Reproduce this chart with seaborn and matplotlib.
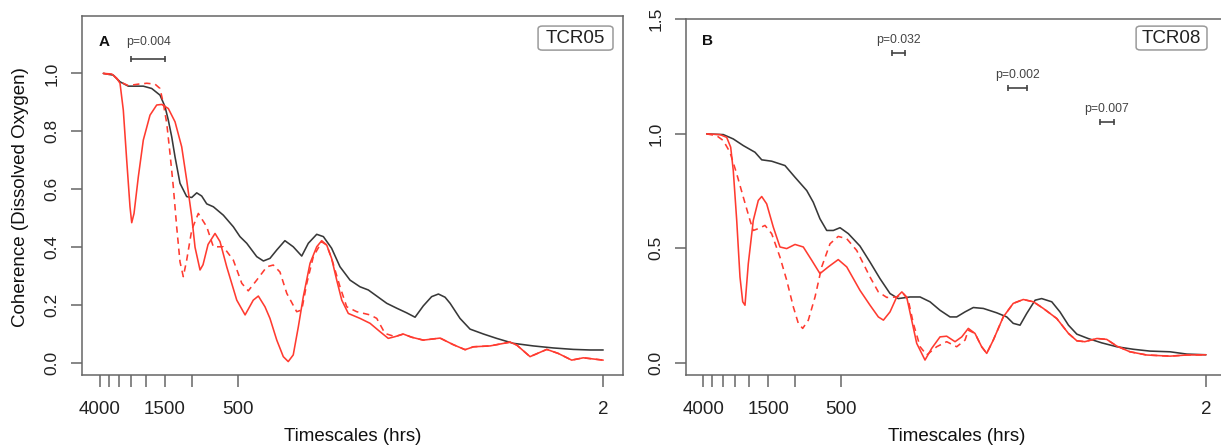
import numpy as np
import pandas as pd
import matplotlib
matplotlib.use("Agg")
import matplotlib.pyplot as plt
from matplotlib.ticker import NullLocator
from matplotlib.patches import FancyBboxPatch
import seaborn as sns

# ---------------- data: timescale (hrs) vs coherence ----------------
# panel A, TCR05
a_black_t = [3806, 3272, 2957, 2609, 2080, 1832, 1616, 1498, 1426, 1354, 1288, 1195, 1080, 1001,
             928, 861, 798, 722, 621, 534, 483, 436, 375, 339, 307, 277, 245, 216, 190, 172,
             151.5, 137, 121, 106.6, 91.6, 78.8, 69.5, 61.2, 52.6, 45.2, 38.9, 34.3, 30.3, 26.7,
             24.1, 21.8, 20.2, 17.4, 14.95, 12.2, 10.0, 7.78, 5.75, 4.25, 3.14, 2.44, 2.0]
a_black_c = [1.000, 0.994, 0.971, 0.956, 0.956, 0.948, 0.925, 0.885, 0.839, 0.781, 0.712, 0.621,
             0.575, 0.572, 0.588, 0.577, 0.550, 0.540, 0.511, 0.471, 0.437, 0.414, 0.368, 0.353,
             0.362, 0.391, 0.423, 0.402, 0.370, 0.414, 0.445, 0.437, 0.397, 0.333, 0.287, 0.264,
             0.253, 0.232, 0.207, 0.190, 0.174, 0.159, 0.198, 0.230, 0.239, 0.228, 0.207, 0.155,
             0.118, 0.101, 0.086, 0.069, 0.060, 0.053, 0.048, 0.046, 0.046]

a_red_t = [3806, 3352, 3108, 2957, 2813, 2673, 2543, 2478, 2393, 2243, 2080, 1880, 1699, 1575,
           1426, 1288, 1165, 1080, 1001, 952, 883, 844, 782, 704, 653, 590, 507, 447, 395, 366,
           331, 307, 277, 251, 233, 216, 200, 185.5, 167.6, 151.5, 140.5, 130.3, 121, 112, 103.8,
           94.0, 78.8, 67.7, 58.2, 51.4, 46.4, 41.0, 36.1, 30.3, 23.5, 19.2, 16.1, 14.2, 11.05,
           8.17, 7.38, 6.04, 4.69, 3.94, 3.22, 2.70, 2.0]
a_red_c = [1.000, 0.998, 0.983, 0.966, 0.873, 0.701, 0.540, 0.485, 0.517, 0.643, 0.770, 0.856,
           0.891, 0.893, 0.879, 0.833, 0.747, 0.632, 0.506, 0.400, 0.322, 0.340, 0.410, 0.448,
           0.420, 0.333, 0.218, 0.167, 0.218, 0.232, 0.195, 0.155, 0.080, 0.023, 0.006, 0.029,
           0.126, 0.230, 0.345, 0.402, 0.423, 0.408, 0.362, 0.287, 0.218, 0.172, 0.155, 0.138,
           0.109, 0.086, 0.092, 0.101, 0.090, 0.080, 0.087, 0.064, 0.047, 0.057, 0.060, 0.073,
           0.063, 0.023, 0.048, 0.034, 0.011, 0.019, 0.011]

a_dash_t = [3806, 3272, 2957, 2609, 2243, 1975, 1743, 1616, 1538, 1460, 1390, 1322, 1256, 1195,
            1137, 1080, 1001, 906, 798, 722, 621, 534, 470, 426, 375, 322, 292, 264, 238, 205,
            190, 176, 159.5, 140.5, 130.3, 121, 106.6, 96.3, 82.8, 67.7, 61.2, 54.0, 46.4, 41.0,
            36.1, 30.3, 23.5, 19.2, 16.1, 14.2, 11.05, 8.17, 7.38, 6.04, 4.69, 3.94, 3.22, 2.70, 2.0]
a_dash_c = [1.000, 0.994, 0.971, 0.958, 0.963, 0.966, 0.963, 0.948, 0.897, 0.828, 0.724, 0.609,
            0.470, 0.350, 0.299, 0.356, 0.460, 0.517, 0.471, 0.402, 0.402, 0.356, 0.276, 0.250,
            0.287, 0.333, 0.339, 0.315, 0.241, 0.178, 0.184, 0.276, 0.368, 0.419, 0.408, 0.362,
            0.264, 0.195, 0.178, 0.167, 0.155, 0.103, 0.092, 0.101, 0.090, 0.080, 0.087, 0.064,
            0.047, 0.057, 0.060, 0.073, 0.063, 0.023, 0.048, 0.034, 0.011, 0.019, 0.011]

# panel B, TCR08
b_black_t = [3811, 2965, 2549, 2190, 1835, 1658, 1426, 1166, 1002, 839, 760, 687, 620, 561, 507,
             447, 375, 322, 277, 238, 210, 176, 151, 130, 111.7, 96.0, 86.8, 76.5, 67.5, 58.0,
             47.4, 40.7, 36.9, 33.3, 30.1, 26.5, 24.0, 20.6, 18.2, 16.0, 14.1, 11.9, 9.68, 7.71,
             6.00, 4.66, 3.44, 2.67, 2.0]
b_black_c = [0.999, 0.996, 0.977, 0.948, 0.919, 0.886, 0.880, 0.861, 0.810, 0.752, 0.701, 0.629,
             0.578, 0.578, 0.590, 0.564, 0.510, 0.440, 0.368, 0.303, 0.281, 0.288, 0.288, 0.267,
             0.230, 0.201, 0.201, 0.223, 0.242, 0.238, 0.219, 0.201, 0.173, 0.165, 0.216, 0.274,
             0.281, 0.267, 0.223, 0.165, 0.126, 0.107, 0.088, 0.071, 0.060, 0.052, 0.049, 0.039,
             0.036]

b_red_t = [3811, 3117, 2816, 2651, 2549, 2420, 2303, 2210, 2135, 2031, 1883, 1746, 1658, 1538,
           1392, 1258, 1136, 1002, 884, 778, 687, 606, 521, 458, 375, 322, 284, 263, 238, 215,
           199, 185, 171.5, 159, 140.2, 126.7, 111.7, 101, 89.0, 80.4, 72.8, 65.8, 59.5, 55.1,
           49.9, 42.9, 36.9, 31.7, 27.2, 23.4, 19.1, 16.0, 14.1, 12.5, 10.4, 8.97, 7.71, 6.31,
           4.90, 3.44, 2.67, 2.0]
b_red_c = [0.999, 0.996, 0.984, 0.941, 0.839, 0.622, 0.375, 0.267, 0.252, 0.433, 0.622, 0.709,
           0.726, 0.694, 0.593, 0.506, 0.499, 0.517, 0.506, 0.448, 0.390, 0.419, 0.451, 0.419,
           0.317, 0.252, 0.201, 0.187, 0.223, 0.288, 0.310, 0.288, 0.187, 0.086, 0.013, 0.064,
           0.114, 0.117, 0.093, 0.114, 0.151, 0.129, 0.071, 0.042, 0.100, 0.201, 0.260, 0.277,
           0.267, 0.238, 0.194, 0.129, 0.097, 0.093, 0.107, 0.103, 0.074, 0.049, 0.035, 0.030,
           0.035, 0.036]

b_dash_t = [3811, 3276, 2965, 2679, 2420, 2190, 1979, 1883, 1746, 1578, 1426, 1258, 1136, 1028,
            953, 892, 819, 740, 669, 590, 521, 458, 394, 322, 284, 250, 215, 195, 180.5, 167.3,
            151, 136.6, 117.5, 101, 86.8, 76.5, 72.8, 65.8, 59.5, 55.1, 49.9, 42.9, 36.9, 31.7,
            27.2, 23.4, 19.1, 16.0, 14.1, 12.5, 10.4, 8.97, 7.71, 6.31, 4.90, 3.44, 2.67, 2.0]
b_dash_c = [0.999, 0.991, 0.970, 0.919, 0.825, 0.723, 0.622, 0.578, 0.586, 0.600, 0.564, 0.462,
            0.361, 0.245, 0.173, 0.151, 0.187, 0.288, 0.419, 0.520, 0.552, 0.542, 0.491, 0.375,
            0.310, 0.286, 0.288, 0.303, 0.274, 0.173, 0.071, 0.035, 0.071, 0.093, 0.071, 0.100,
            0.143, 0.129, 0.071, 0.042, 0.100, 0.201, 0.260, 0.277, 0.267, 0.238, 0.194, 0.129,
            0.097, 0.093, 0.107, 0.103, 0.074, 0.049, 0.035, 0.030, 0.035, 0.036]

# significance bars: (longer timescale, shorter timescale, height, label)
a_sig_lo = [2500]
a_sig_hi = [1500]
a_sig_y = [1.05]
a_sig_p = ["p=0.004"]
b_sig_lo = [230, 40, 10]
b_sig_hi = [190, 30, 8]
b_sig_y = [1.35, 1.20, 1.05]
b_sig_p = ["p=0.032", "p=0.002", "p=0.007"]

x_ticks = [4000, 3500, 3000, 2500, 2000, 1500, 1000, 500, 2]
x_tick_labels = ["4000", "", "", "", "", "1500", "", "500", "2"]
a_yticks = [0.0, 0.2, 0.4, 0.6, 0.8, 1.0]
b_yticks = [0.0, 0.5, 1.0, 1.5]

# ---------------- styling ----------------
sns.set_theme(style="white")
plt.rcParams['font.family'] = ['Liberation Sans', 'DejaVu Sans']

BLACK = "#383838"
RED = "#ff3b30"
AXC = "#666666"
palette = {"black": BLACK, "red": RED, "red_dashed": RED}
dashes = {"black": "", "red": "", "red_dashed": (4, 3)}


def long_frame(black_t, black_c, red_t, red_c, dash_t, dash_c):
    parts = []
    for name, t, c in [("black", black_t, black_c), ("red", red_t, red_c),
                       ("red_dashed", dash_t, dash_c)]:
        parts.append(pd.DataFrame({"t": t, "coh": c, "series": name}))
    return pd.concat(parts, ignore_index=True)


def draw_panel(ax, df, xlim, ylim, yticks, letter, letter_y, tag, tag_box,
               sig_lo, sig_hi, sig_y, sig_p):
    sns.lineplot(data=df, x="t", y="coh", hue="series", style="series",
                 palette=palette, dashes=dashes, estimator=None, sort=False,
                 lw=1.15, legend=False, ax=ax)
    ax.set_xscale("log")
    ax.set_xlim(*xlim)
    ax.set_ylim(*ylim)
    ax.set_xticks(x_ticks)
    ax.set_xticklabels(x_tick_labels)
    ax.xaxis.set_minor_locator(NullLocator())
    ax.set_yticks(yticks)
    ax.set_yticklabels([f"{v:.1f}" for v in yticks], rotation=90, va="center")
    ax.set_xlabel("")
    ax.set_ylabel("")
    for sp in ax.spines.values():
        sp.set_visible(True)
        sp.set_color(AXC)
        sp.set_linewidth(1.1)
    ax.tick_params(axis="x", direction="out", length=8.5, width=1.1, color=AXC,
                   labelsize=13.5, pad=10, labelcolor="#222222", bottom=True)
    ax.tick_params(axis="y", direction="out", length=8, width=1.1, color=AXC,
                   labelsize=12.5, pad=8, labelcolor="#222222", left=True)

    # significance bars
    for lo, hi, y, p in zip(sig_lo, sig_hi, sig_y, sig_p):
        ax.plot([lo, hi], [y, y], color="#444444", lw=1.2, marker="|",
                markersize=5, markeredgewidth=1.2)
        ax.text(np.sqrt(lo * hi), y + 0.057, p, ha="center", va="center",
                fontsize=8.8, color="#444444")

    ax.text(3750, letter_y, letter, ha="center", va="center", fontsize=11,
            fontweight="bold", color="#111111")

    x0, y0, x1, y1 = tag_box
    ax.add_patch(FancyBboxPatch((x0, y0), x1 - x0, y1 - y0, transform=ax.transAxes,
                                boxstyle="round,pad=0,rounding_size=0.008",
                                fc="white", ec="#9a9a9a", lw=1.1, zorder=5))
    ax.text((x0 + x1) / 2, (y0 + y1) / 2, tag, transform=ax.transAxes, ha="center",
            va="center", fontsize=13.5, color="#222222", zorder=6)


fig = plt.figure(figsize=(12.21, 4.48), dpi=100)
ax_a = fig.add_axes([82 / 1221, 73 / 448, 541 / 1221, 359 / 448])
ax_b = fig.add_axes([686 / 1221, 73 / 448, 541 / 1221, 356 / 448])

df_a = long_frame(a_black_t, a_black_c, a_red_t, a_red_c, a_dash_t, a_dash_c)
df_b = long_frame(b_black_t, b_black_c, b_red_t, b_red_c, b_dash_t, b_dash_c)

draw_panel(ax_a, df_a, (5251, 1.483), (-0.0403, 1.198), a_yticks, "A", 1.108, "TCR05",
           (0.843, 0.905, 0.9815, 0.972), a_sig_lo, a_sig_hi, a_sig_y, a_sig_p)
draw_panel(ax_b, df_b, (5212, 1.454), (-0.0522, 1.5), b_yticks, "B", 1.404, "TCR08",
           (0.832, 0.913, 0.963, 0.980), b_sig_lo, b_sig_hi, b_sig_y, b_sig_p)

fig.text(21 / 1221, 1 - 197 / 448, "Coherence (Dissolved Oxygen)", rotation=90,
         ha="center", va="center", fontsize=13.5, color="#111111")
for ax in (ax_a, ax_b):
    pos = ax.get_position()
    fig.text(pos.x0 + 270.5 / 1221, 12 / 448, "Timescales (hrs)", ha="center",
             va="center", fontsize=13.5, color="#111111")

fig.savefig("out.png", dpi=100)
